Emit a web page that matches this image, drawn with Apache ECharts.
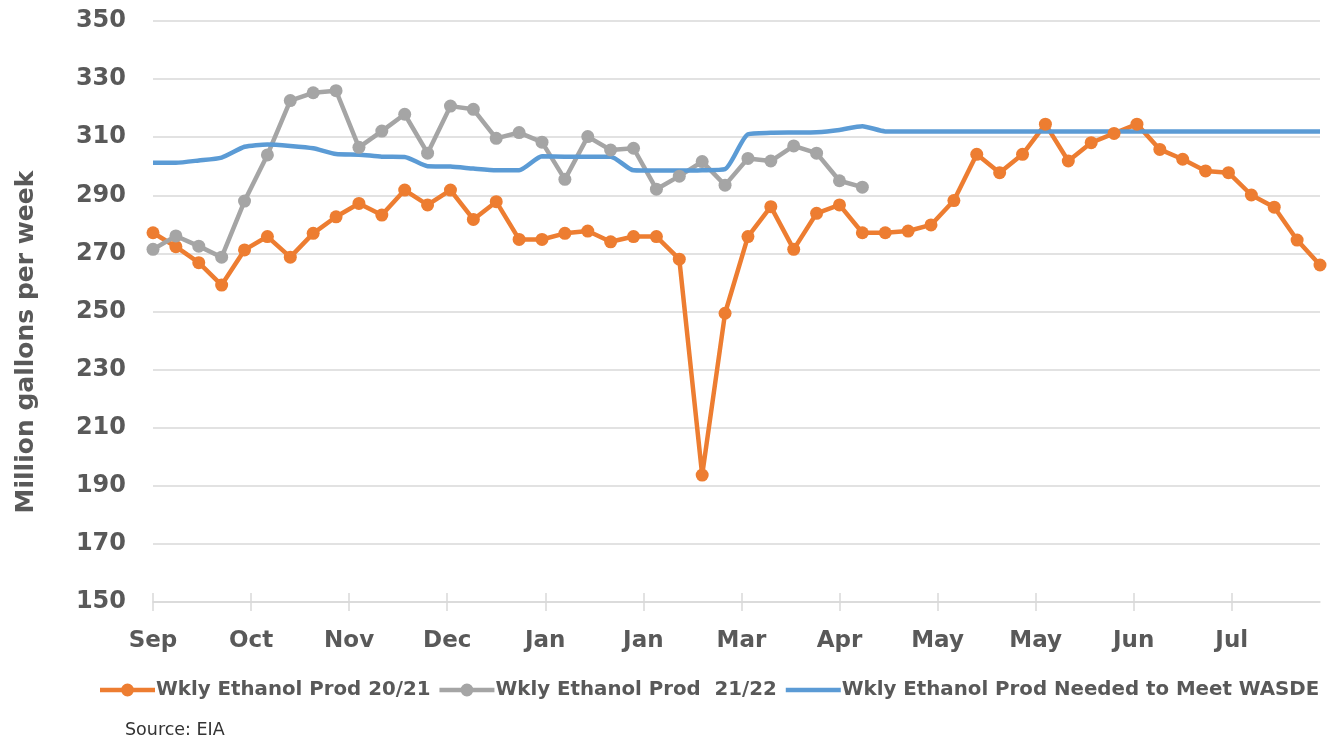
<!DOCTYPE html>
<html>
<head>
<meta charset="utf-8">
<title>Weekly Ethanol Production</title>
<script src="https://cdn.jsdelivr.net/npm/echarts@6/dist/echarts.min.js"></script>
<style>
  html, body { margin: 0; padding: 0; background: #fff; }
  #chart { width: 1327px; height: 741px; }
</style>
</head>
<body>
<div id="chart"></div>
<script>
// tick labels every 30 days (Excel date axis)
const tickDays = [0, 30, 60, 90, 120, 150, 180, 210, 240, 270, 300, 330]
const tickLabels = ['Sep', 'Oct', 'Nov', 'Dec', 'Jan', 'Jan', 'Mar', 'Apr', 'May', 'May', 'Jun', 'Jul']

// weekly values, million gallons per week
const prod2021 = [
  277.1, 272.3, 266.8, 259.1, 271.2, 275.8, 268.7, 276.9, 282.6, 287.2,
  283.2, 291.8, 286.7, 291.8, 281.7, 287.8, 274.8, 274.8, 276.9, 277.7,
  274.0, 275.8, 275.8, 268.0, 193.7, 249.4, 275.8, 286.1, 271.4, 283.8,
  286.7, 277.1, 277.1, 277.7, 279.8, 288.2, 304.1, 297.8, 304.1, 314.5,
  301.8, 308.1, 311.3, 314.5, 305.8, 302.4, 298.4, 297.8, 290.1, 285.9,
  274.6, 266.0
]
const prod2122 = [
  271.4, 276.0, 272.5, 268.7, 288.0, 303.9, 322.6, 325.3, 326.0, 306.5,
  312.1, 317.9, 304.5, 320.7, 319.6, 309.6, 311.6, 308.3, 295.5, 310.2,
  305.6, 306.2, 292.1, 296.6, 301.6, 293.5, 302.7, 301.8, 307.0, 304.5,
  295.0, 292.8
]
const neededWasde = [
  301.2, 301.2, 302.0, 303.0, 306.7, 307.5, 307.0, 306.2, 304.2, 304.0,
  303.3, 303.2, 300.0, 299.9, 299.2, 298.6, 298.6, 303.4, 303.3, 303.3,
  303.3, 298.6, 298.5, 298.5, 298.6, 299.0, 311.0, 311.5, 311.6, 311.7,
  312.5, 313.8, 312.0, 312.0, 312.0, 312.0, 312.0, 312.0, 312.0, 312.0,
  312.0, 312.0, 312.0, 312.0, 312.0, 312.0, 312.0, 312.0, 312.0, 312.0,
  312.0, 312.0
]

const toWeekly = arr => arr.map((v, i) => [i * 7, v])

const font = 'DejaVu Sans'
const textColor = '#595959'
const gridColor = '#D9D9D9'

// legend icons: thick line with a dot, or a plain thick line
const lineDotIcon = 'path://M0,4.75h55v4.5h-55z M21,7a6.5,6.5 0 1,1 13,0a6.5,6.5 0 1,1 -13,0z'
const lineIcon = 'path://M0,0h55v4.5h-55z'

const chart = echarts.init(document.getElementById('chart'))

const xBase = {
  type: 'value',
  min: 0,
  max: 357,
  interval: 30,
  position: 'bottom',
  splitLine: { show: false }
}

chart.setOption({
  animation: false,
  title: {
    text: 'Source: EIA',
    left: 125,
    top: 721,
    padding: 0,
    textStyle: { fontFamily: font, fontSize: 17.5, fontWeight: 'normal', color: '#333333' }
  },
  graphic: [
    {
      type: 'text',
      x: 26,
      y: 342,
      rotation: Math.PI / 2,
      style: {
        text: 'Million gallons per week',
        align: 'center',
        verticalAlign: 'middle',
        fontFamily: font,
        fontSize: 25,
        fontWeight: 'bold',
        fill: textColor
      }
    }
  ],
  legend: {
    left: 100,
    top: 680,
    itemWidth: 55,
    itemHeight: 14,
    itemGap: 9,
    padding: 0,
    textStyle: { fontFamily: font, fontSize: 19.8, fontWeight: 'bold', color: textColor, padding: [0, 0, 0, -4] },
    data: [
      { name: 'Wkly Ethanol Prod 20/21', icon: lineDotIcon, itemStyle: { color: '#ED7D31' } },
      { name: 'Wkly Ethanol Prod  21/22', icon: lineDotIcon, itemStyle: { color: '#A5A5A5' } },
      { name: 'Wkly Ethanol Prod Needed to Meet WASDE', icon: lineIcon, itemStyle: { color: '#5B9BD5' } }
    ]
  },
  grid: {
    left: 153,
    right: 7,
    top: 21,
    bottom: 139
  },
  xAxis: [
    Object.assign({}, xBase, {
      axisLine: { lineStyle: { color: gridColor, width: 1.5 } },
      axisTick: { show: true, length: 9, customValues: tickDays, lineStyle: { color: gridColor, width: 1.5 } },
      axisLabel: {
        customValues: tickDays,
        margin: 28,
        fontFamily: font,
        fontSize: 23,
        fontWeight: 'bold',
        color: textColor,
        formatter: v => tickLabels[tickDays.indexOf(v)] || ''
      }
    }),
    Object.assign({}, xBase, {
      axisLine: { show: false },
      axisTick: { show: true, inside: true, length: 9, customValues: tickDays, lineStyle: { color: gridColor, width: 1.5 } },
      axisLabel: { show: false }
    })
  ],
  yAxis: {
    type: 'value',
    min: 150,
    max: 350,
    interval: 20,
    axisLine: { show: false },
    axisTick: { show: false },
    axisLabel: { margin: 27, fontFamily: font, fontSize: 24, fontWeight: 'bold', color: textColor },
    splitLine: { lineStyle: { color: gridColor, width: 1.5 } }
  },
  series: [
    {
      name: 'Wkly Ethanol Prod 20/21',
      type: 'line',
      data: toWeekly(prod2021),
      symbol: 'circle',
      symbolSize: 13,
      itemStyle: { color: '#ED7D31' },
      lineStyle: { color: '#ED7D31', width: 4.5 }
    },
    {
      name: 'Wkly Ethanol Prod  21/22',
      type: 'line',
      data: toWeekly(prod2122),
      symbol: 'circle',
      symbolSize: 13,
      itemStyle: { color: '#A5A5A5' },
      lineStyle: { color: '#A5A5A5', width: 4.5 }
    },
    {
      name: 'Wkly Ethanol Prod Needed to Meet WASDE',
      type: 'line',
      data: toWeekly(neededWasde),
      showSymbol: false,
      symbol: 'none',
      smooth: 0.2,
      itemStyle: { color: '#5B9BD5' },
      lineStyle: { color: '#5B9BD5', width: 4.5 }
    }
  ]
})
</script>
</body>
</html>
